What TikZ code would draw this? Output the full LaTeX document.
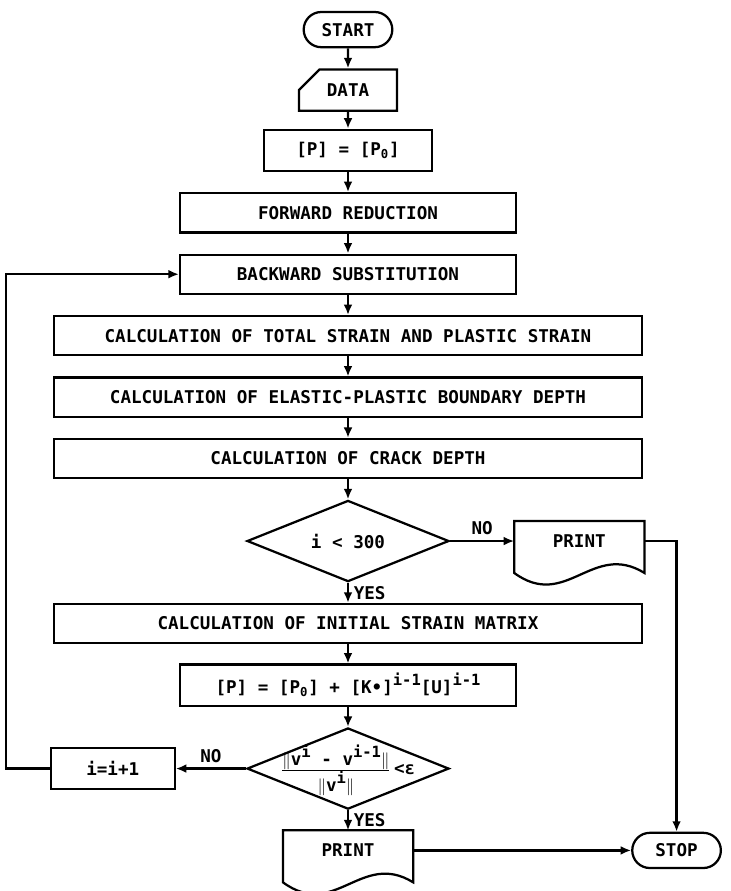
\documentclass[tikz,border=0pt]{standalone}
\usepackage{amsmath}
\usepackage{fontspec}
\setmonofont{DejaVu Sans Mono}
\usetikzlibrary{positioning,shapes.geometric,shapes.misc,arrows.meta}
\newcommand{\upidx}[1]{\raisebox{0.8ex}{\fontsize{11}{11}\selectfont #1}}

\begin{document}
\begin{tikzpicture}[
  font=\ttfamily\bfseries\fontsize{12.5}{15}\selectfont,
  >={Latex[length=2.6mm,width=2.2mm]},
  line width=1.6pt,
  node distance=0.5cm,
  terminal/.style={
    draw, rounded rectangle,
    minimum width=2.45cm, minimum height=0.88cm
  },
  card/.style={
    draw, chamfered rectangle,
    chamfered rectangle corners=north west,
    chamfered rectangle xsep=0.3cm, chamfered rectangle ysep=0.32cm,
    inner ysep=1pt, minimum width=2.45cm
  },
  proc/.style={draw, rectangle, minimum height=0.98cm, inner sep=2pt},
  narrow/.style={proc, minimum width=8.4cm},
  wide/.style={proc, minimum width=14.7cm},
  decision/.style={
    draw, diamond, aspect=2.5, inner sep=0pt,
    minimum width=5.05cm, minimum height=2.03cm
  },
  printout/.style={rectangle, minimum width=3.2cm, minimum height=0.95cm}
]
\useasboundingbox (0,0) rectangle (18.275,-22.275);

\node[terminal] (start) at (8.7,-0.74) {START};
\node[card, below=of start] (data) {DATA};
\node[proc, minimum width=4.2cm, minimum height=1.03cm, below=0.42cm of data] (pinit) {[P] = [P\textsubscript{0}]};
\node[narrow, below=of pinit] (fwd) {FORWARD REDUCTION};
\node[narrow, below=of fwd] (bwd) {BACKWARD SUBSTITUTION};
\node[wide, below=of bwd] (total) {CALCULATION OF TOTAL STRAIN AND PLASTIC STRAIN};
\node[wide, below=of total] (bound) {CALCULATION OF ELASTIC-PLASTIC BOUNDARY DEPTH};
\node[wide, below=of bound] (crack) {CALCULATION OF CRACK DEPTH};
\node[decision, below=of crack] (chk) {i < 300};
\node[printout, right=1.6cm of chk] (pr1) {PRINT};
\node[wide, below=of chk] (init) {CALCULATION OF INITIAL STRAIN MATRIX};
\node[narrow, minimum height=1.03cm, below=0.48cm of init] (pnew) {[P] = [P\textsubscript{0}] + [K•]\upidx{i-1}[U]\upidx{i-1}};
\node[decision, below=of pnew] (conv) {\makebox[0pt]{\smash{\raisebox{-1.5mm}{$\frac{\mbox{$\|$v\upidx{i} - v\upidx{i-1}$\|$}}{\mbox{$\|$v\upidx{i}$\|$}}$\,<ε}}}};
\node[proc, minimum width=3.1cm, minimum height=1.03cm, left=1.75cm of conv] (incr) {i=i+1};
\node[printout, below=of conv] (pr2) {PRINT};
\node[terminal, right=5.45cm of pr2] (stop) {STOP};

% printout outlines
\draw (pr1.north west) -- (pr1.north east) -- ++(0,-1.3) .. controls +(-1.3,0.8) and +(1.3,-0.95) .. ([yshift=-1.3cm]pr1.north west) -- cycle;
\draw (pr2.north west) -- (pr2.north east) -- ++(0,-1.3) .. controls +(-1.3,0.8) and +(1.3,-0.95) .. ([yshift=-1.3cm]pr2.north west) -- cycle;

\draw[->] (start) -- (data);
\draw[->] (data) -- (pinit);
\draw[->] (pinit) -- (fwd);
\draw[->] (fwd) -- (bwd);
\draw[->] (bwd) -- (total);
\draw[->] (total) -- (bound);
\draw[->] (bound) -- (crack);
\draw[->] (crack) -- (chk);
\draw[->] (chk) -- node[above] {NO} (pr1);
\draw[->] (chk) -- node[right] {YES} (init);
\draw[->] (init) -- (pnew);
\draw[->] (pnew) -- (conv);
\draw[->] (conv) -- node[above] {NO} (incr);
\draw[->] (incr.west) -- ++(-1.1,0) |- (bwd.west);
\draw[->] (conv) -- node[right] {YES} (pr2);
\draw[->] (pr1.east) -| (stop.north);
\draw[->] (pr2.east) -- (stop.west);

\end{tikzpicture}
\end{document}
